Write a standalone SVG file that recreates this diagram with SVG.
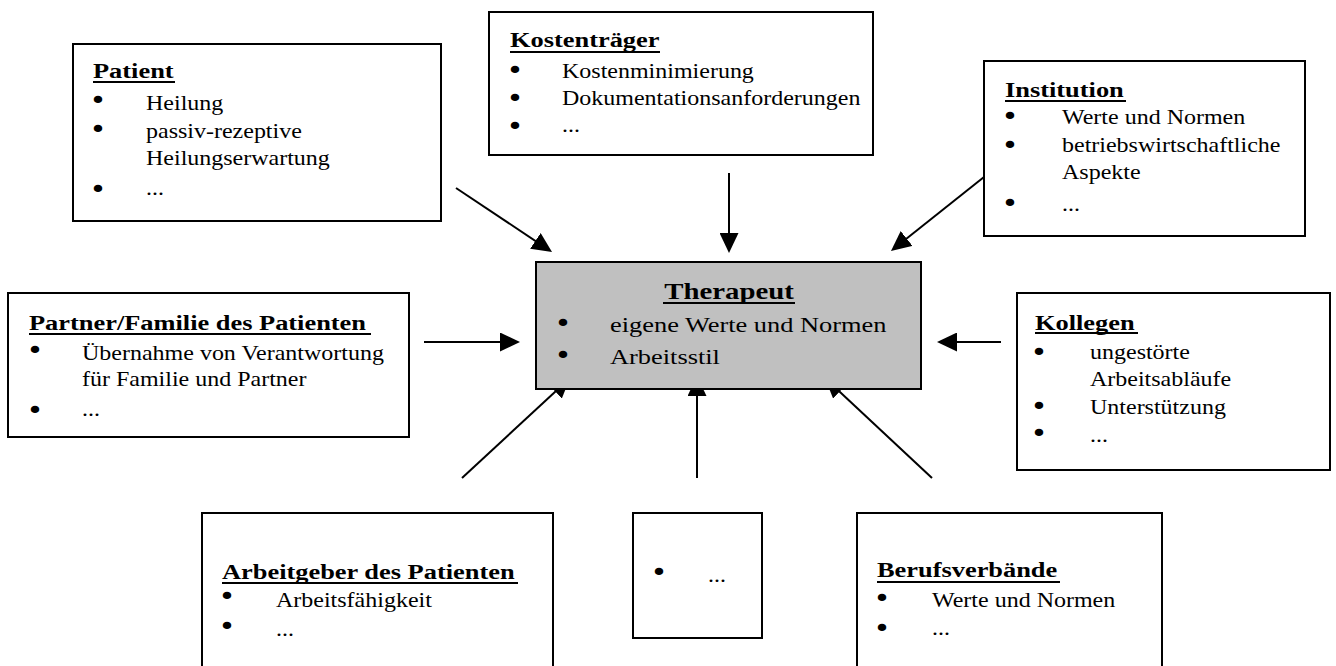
<svg xmlns="http://www.w3.org/2000/svg" width="1336" height="666" viewBox="0 0 1336 666">
<defs>
<style>
.box{fill:#fff;stroke:#000;stroke-width:2}
.ther{fill:#c0c0c0;stroke:#000;stroke-width:2}
text{font-family:"Liberation Serif","Times New Roman",serif;fill:#000}
.t{font-size:20px}
.h{font-size:22px;font-weight:bold}
.th{font-size:24px;font-weight:bold}
.tt{font-size:22px}
text.b{font-family:"DejaVu Sans",sans-serif;font-size:24px;text-anchor:middle}
.u{stroke:#000;stroke-width:2}
.c line{stroke:#000;stroke-width:2;marker-end:url(#ah)}
</style>
<marker id="ah" markerUnits="userSpaceOnUse" markerWidth="20" markerHeight="19" refX="16" refY="9.5" orient="auto" viewBox="0 0 20 19">
<path d="M0,0 L20,9.5 L0,19 z" fill="#000"/>
</marker>
</defs>
<rect width="1336" height="666" fill="#fff"/>

<g id="connectors" class="c">
<line x1="456" y1="188" x2="548.7" y2="249.8"/>
<line x1="729" y1="173" x2="729" y2="249"/>
<line x1="984" y1="177" x2="894.1" y2="248.5"/>
<line x1="424" y1="342" x2="516" y2="342"/>
<line x1="1001" y1="342" x2="941" y2="342"/>
<line x1="462" y1="478" x2="567.1" y2="380.7"/>
<line x1="697" y1="478" x2="697" y2="380"/>
<line x1="932" y1="478" x2="827.9" y2="380.7"/>
</g>

<g id="patient">
<rect class="box" x="73" y="44" width="368" height="177"/>
<text class="h" transform="translate(93,78) scale(1.2,1)">Patient</text>
<line class="u" x1="93" y1="82" x2="175" y2="82"/>
<text class="b" transform="translate(98,109) scale(1.2,1)">•</text>
<text class="t" transform="translate(146,110) scale(1.2,1)">Heilung</text>
<text class="b" transform="translate(98,138) scale(1.2,1)">•</text>
<text class="t" transform="translate(146,138) scale(1.2,1)">passiv-rezeptive</text>
<text class="t" transform="translate(146,165) scale(1.2,1)">Heilungserwartung</text>
<text class="b" transform="translate(98,198) scale(1.2,1)">•</text>
<text class="t" transform="translate(146,195) scale(1.2,1)">...</text>
</g>

<g id="kostentraeger">
<rect class="box" x="489" y="12" width="384" height="143"/>
<text class="h" transform="translate(510,47) scale(1.2,1)">Kostenträger</text>
<line class="u" x1="510" y1="52" x2="660" y2="52"/>
<text class="b" transform="translate(515,79) scale(1.2,1)">•</text>
<text class="t" transform="translate(562,78) scale(1.2,1)">Kostenminimierung</text>
<text class="b" transform="translate(515,107) scale(1.2,1)">•</text>
<text class="t" transform="translate(562,105) scale(1.2,1)">Dokumentationsanforderungen</text>
<text class="b" transform="translate(515,135) scale(1.2,1)">•</text>
<text class="t" transform="translate(562,132) scale(1.2,1)">...</text>
</g>

<g id="institution">
<rect class="box" x="984" y="61" width="321" height="175"/>
<text class="h" transform="translate(1005,97) scale(1.2,1)">Institution</text>
<line class="u" x1="1005" y1="101" x2="1126" y2="101"/>
<text class="b" transform="translate(1010,125) scale(1.2,1)">•</text>
<text class="t" transform="translate(1062,124) scale(1.2,1)">Werte und Normen</text>
<text class="b" transform="translate(1010,154) scale(1.2,1)">•</text>
<text class="t" transform="translate(1062,152) scale(1.2,1)">betriebswirtschaftliche</text>
<text class="t" transform="translate(1062,179) scale(1.2,1)">Aspekte</text>
<text class="b" transform="translate(1010,212) scale(1.2,1)">•</text>
<text class="t" transform="translate(1062,211) scale(1.2,1)">...</text>
</g>

<g id="partner">
<rect class="box" x="8" y="293" width="401" height="144"/>
<text class="h" transform="translate(29,330) scale(1.2,1)">Partner/Familie des Patienten</text>
<line class="u" x1="29" y1="334" x2="371" y2="334"/>
<text class="b" transform="translate(35,359) scale(1.2,1)">•</text>
<text class="t" transform="translate(82,360) scale(1.2,1)">Übernahme von Verantwortung</text>
<text class="t" transform="translate(82,386) scale(1.2,1)">für Familie und Partner</text>
<text class="b" transform="translate(35,419) scale(1.2,1)">•</text>
<text class="t" transform="translate(82,416) scale(1.2,1)">...</text>
</g>

<g id="therapeut">
<rect class="ther" x="536" y="262" width="385" height="127"/>
<text class="th" text-anchor="middle" transform="translate(729,299) scale(1.2,1)">Therapeut</text>
<line class="u" x1="663" y1="303" x2="795" y2="303"/>
<text class="b" transform="translate(563,332) scale(1.2,1)">•</text>
<text class="tt" transform="translate(610,332) scale(1.2,1)">eigene Werte und Normen</text>
<text class="b" transform="translate(563,364) scale(1.2,1)">•</text>
<text class="tt" transform="translate(610,364) scale(1.2,1)">Arbeitsstil</text>
</g>

<g id="kollegen">
<rect class="box" x="1017" y="293" width="313" height="177"/>
<text class="h" transform="translate(1035,330) scale(1.2,1)">Kollegen</text>
<line class="u" x1="1035" y1="333" x2="1138" y2="333"/>
<text class="b" transform="translate(1039,361) scale(1.2,1)">•</text>
<text class="t" transform="translate(1090,359) scale(1.2,1)">ungestörte</text>
<text class="t" transform="translate(1090,386) scale(1.2,1)">Arbeitsabläufe</text>
<text class="b" transform="translate(1039,415) scale(1.2,1)">•</text>
<text class="t" transform="translate(1090,414) scale(1.2,1)">Unterstützung</text>
<text class="b" transform="translate(1039,442) scale(1.2,1)">•</text>
<text class="t" transform="translate(1090,442) scale(1.2,1)">...</text>
</g>

<g id="arbeitgeber">
<rect class="box" x="202" y="513" width="351" height="200"/>
<text class="h" transform="translate(222,579) scale(1.2,1)">Arbeitgeber des Patienten</text>
<line class="u" x1="222" y1="583" x2="518" y2="583"/>
<text class="b" transform="translate(227,605) scale(1.2,1)">•</text>
<text class="t" transform="translate(276,607) scale(1.2,1)">Arbeitsfähigkeit</text>
<text class="b" transform="translate(227,635) scale(1.2,1)">•</text>
<text class="t" transform="translate(276,636) scale(1.2,1)">...</text>
</g>

<g id="weitere">
<rect class="box" x="633" y="513" width="129" height="125"/>
<text class="b" transform="translate(659,581) scale(1.2,1)">•</text>
<text class="t" transform="translate(708,582) scale(1.2,1)">...</text>
</g>

<g id="berufsverbaende">
<rect class="box" x="857" y="513" width="305" height="200"/>
<text class="h" transform="translate(877,577) scale(1.2,1)">Berufsverbände</text>
<line class="u" x1="877" y1="582" x2="1060" y2="582"/>
<text class="b" transform="translate(882,607) scale(1.2,1)">•</text>
<text class="t" transform="translate(932,607) scale(1.2,1)">Werte und Normen</text>
<text class="b" transform="translate(882,637) scale(1.2,1)">•</text>
<text class="t" transform="translate(932,635) scale(1.2,1)">...</text>
</g>
</svg>
